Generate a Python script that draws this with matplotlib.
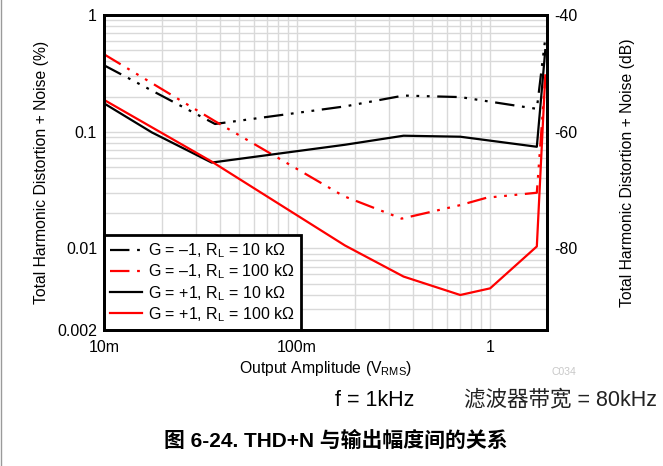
import numpy as np
import matplotlib
matplotlib.use("Agg")
import matplotlib.pyplot as plt
from matplotlib.lines import Line2D
from matplotlib.ticker import LogLocator, FixedLocator, NullFormatter

plt.rcParams['font.family'] = ['Liberation Sans', 'DejaVu Sans']
plt.rcParams['mathtext.fontset'] = 'custom'
plt.rcParams['mathtext.rm'] = 'Liberation Sans'
plt.rcParams['lines.scale_dashes'] = False

# THD+N (%) vs output amplitude (Vrms)
x_inv_10k = [0.01, 0.0376, 0.178, 0.356, 0.70, 1.745, 1.93]
y_inv_10k = [0.371, 0.1165, 0.165, 0.204, 0.198, 0.157, 0.63]

x_inv_100k = [0.01, 0.0376, 0.174, 0.348, 0.70, 0.96, 1.745, 1.93]
y_inv_100k = [0.461, 0.123, 0.0281, 0.018, 0.0235, 0.0272, 0.030, 0.294]

x_non_10k = [0.01, 0.0177, 0.0361, 0.177, 0.356, 0.70, 1.745, 1.93]
y_non_10k = [0.175, 0.0986, 0.0544, 0.0773, 0.0924, 0.0906, 0.0743, 0.50]

x_non_100k = [0.01, 0.0361, 0.177, 0.356, 0.70, 1.0, 1.745, 1.93]
y_non_100k = [0.1875, 0.0555, 0.0106, 0.00574, 0.00399, 0.00455, 0.0104, 0.304]

labels = [r'G = –1, R$_\mathregular{L}$ = 10 kΩ',
          r'G = –1, R$_\mathregular{L}$ = 100 kΩ',
          r'G = +1, R$_\mathregular{L}$ = 10 kΩ',
          r'G = +1, R$_\mathregular{L}$ = 100 kΩ']

fig = plt.figure(figsize=(6.63, 4.66), dpi=100)
W, H = 663, 466
ax = fig.add_axes([104 / W, 1 - 330 / H, (547 - 104) / W, (330 - 15) / H])

# long dash followed by three dots
dash3dot = (14, 5.5, 2, 5.5, 2, 5.5, 2, 5.5)
lw = 1.6
ax.plot(x_inv_10k, y_inv_10k, color='black', lw=lw, dashes=dash3dot, label=labels[0])
ax.plot(x_inv_100k, y_inv_100k, color='#ff0000', lw=lw, dashes=dash3dot, label=labels[1])
ax.plot(x_non_10k, y_non_10k, color='black', lw=lw, label=labels[2])
ax.plot(x_non_100k, y_non_100k, color='#ff0000', lw=lw, label=labels[3])

ax.set_xscale('log')
ax.set_yscale('log')
ax.set_xlim(0.01, 1.97)
ax.set_ylim(0.002, 1)

ax.xaxis.set_major_locator(FixedLocator([0.01, 0.1, 1]))
ax.set_xticklabels(['10m', '100m', '1'])
ax.xaxis.set_minor_locator(LogLocator(base=10, subs=np.arange(2, 10)))
ax.xaxis.set_minor_formatter(NullFormatter())
ax.yaxis.set_major_locator(FixedLocator([0.002, 0.01, 0.1, 1]))
ax.set_yticklabels(['0.002', '0.01', '0.1', '1'])
ax.yaxis.set_minor_locator(LogLocator(base=10, subs=np.arange(2, 10)))
ax.yaxis.set_minor_formatter(NullFormatter())

ax.grid(True, which='both', color='#d9d9d9', lw=1.0)
ax.set_axisbelow(True)
ax.tick_params(which='both', length=0, labelsize=11.5)
ax.tick_params(axis='x', pad=7)
ax.tick_params(axis='y', pad=5)
for s in ax.spines.values():
    s.set_linewidth(2.0)

ax.set_xlabel(r'Output Amplitude (V$_\mathregular{RMS}$)', fontsize=11.3, labelpad=3)
ax.set_ylabel('Total Harmonic Distortion + Noise (%)', fontsize=11.3, labelpad=6)

# dB scale on the right
ax2 = ax.twinx()
ax2.set_ylim(20 * np.log10(0.002 / 100), 20 * np.log10(1 / 100))
ax2.set_yticks([-40, -60, -80])
ax2.set_yticklabels(['-40', '-60', '-80'])
ax2.tick_params(length=0, labelsize=11.5, pad=5)
ax2.set_ylabel('Total Harmonic Distortion + Noise (dB)', fontsize=11.3, labelpad=31)
for s in ax2.spines.values():
    s.set_linewidth(2.0)

leg = ax.legend(loc='lower left', bbox_to_anchor=(0, 0), borderaxespad=0,
                fancybox=False, fontsize=11.5, handlelength=2.0,
                handletextpad=0.35, labelspacing=0.15, borderpad=0.4)
leg.get_frame().set_edgecolor('black')
leg.get_frame().set_linewidth(2.0)
leg.get_frame().set_alpha(1)
leg.set_zorder(5)

fig.text(564 / W, 1 - 372 / H, 'C034', color='#c8c8c8', fontsize=7.5,
         ha='center', va='center')
fig.text(375 / W, 1 - 400 / H, 'f = 1kHz', fontsize=15.5, ha='center', va='center')
fig.text(561 / W, 1 - 400 / H, '滤波器带宽 = 80kHz', fontsize=15.5,
         ha='center', va='center', color='#222222',
         family=['Liberation Sans', 'Noto Sans CJK SC'])
fig.text(336 / W, 1 - 441 / H, '图 6-24. THD+N 与输出幅度间的关系', fontsize=15,
         ha='center', va='center', fontweight='bold',
         family=['Liberation Sans', 'Noto Sans CJK SC'])

fig.add_artist(Line2D([0.5 / W, 0.5 / W], [0, 1], color='#9a9a9a', lw=1.0))

fig.savefig('out.png', dpi=100)
